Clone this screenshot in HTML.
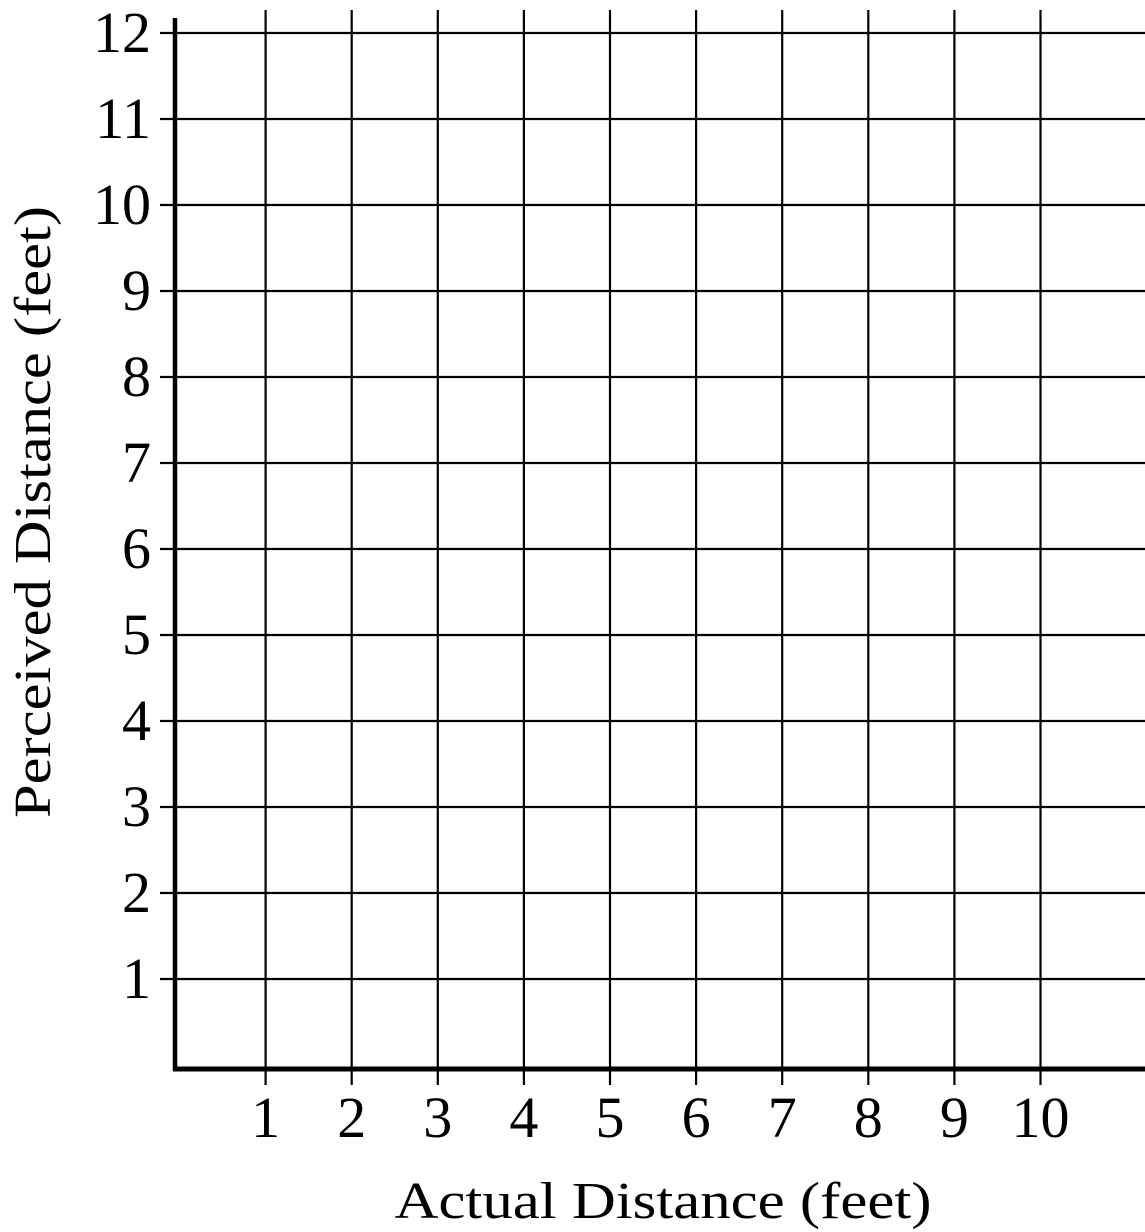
<!DOCTYPE html>
<html><head><meta charset="utf-8"><style>
html,body{margin:0;padding:0;background:#fff;}
svg{display:block;}
text{font-family:"Liberation Serif",serif;fill:#000;}
</style></head><body>
<svg id="chart" width="1145" height="1232" viewBox="0 0 1145 1232">
<g id="grid"></g>
<g id="labels"></g>
<line x1="175" y1="18" x2="175" y2="1071" stroke="#000" stroke-width="4.5"/>
<line x1="173" y1="1069" x2="1145" y2="1069" stroke="#000" stroke-width="5"/>
<text x="663" y="1218" font-size="52" text-anchor="middle" textLength="537" lengthAdjust="spacingAndGlyphs">Actual Distance (feet)</text>
<text transform="translate(50,512) rotate(-90)" x="0" y="0" font-size="52" text-anchor="middle" textLength="612" lengthAdjust="spacingAndGlyphs">Perceived Distance (feet)</text>
</svg>
<script>
const xTicks = [1,2,3,4,5,6,7,8,9,10];
const yTicks = [1,2,3,4,5,6,7,8,9,10,11,12];
const ns = "http://www.w3.org/2000/svg";
const x0 = 179.5, xStep = 86.1;
const y0 = 1065, yStep = 86;
function xs(v){return x0 + v*xStep;}
function ys(v){return y0 - v*yStep;}
const grid = document.getElementById('grid');
const labels = document.getElementById('labels');
xTicks.forEach(v=>{
  const l = document.createElementNS(ns,'line');
  l.setAttribute('x1',xs(v));l.setAttribute('x2',xs(v));
  l.setAttribute('y1',10);l.setAttribute('y2',1085);
  l.setAttribute('stroke','#000');l.setAttribute('stroke-width','2.2');
  
  
  grid.appendChild(l);
  const t = document.createElementNS(ns,'text');
  t.setAttribute('x',xs(v));t.setAttribute('y',1137);
  t.setAttribute('font-size','58');t.setAttribute('text-anchor','middle');
  t.textContent = v;
  
  
  labels.appendChild(t);
});
yTicks.forEach(v=>{
  const l = document.createElementNS(ns,'line');
  l.setAttribute('x1',160);l.setAttribute('x2',1145);
  l.setAttribute('y1',ys(v));l.setAttribute('y2',ys(v));
  l.setAttribute('stroke','#000');l.setAttribute('stroke-width','2.2');
  
  
  grid.appendChild(l);
  const t = document.createElementNS(ns,'text');
  t.setAttribute('x',151);t.setAttribute('y',ys(v)+19);
  t.setAttribute('font-size','58');t.setAttribute('text-anchor','end');
  t.textContent = v;
  
  
  labels.appendChild(t);
});
</script>
</body></html>
